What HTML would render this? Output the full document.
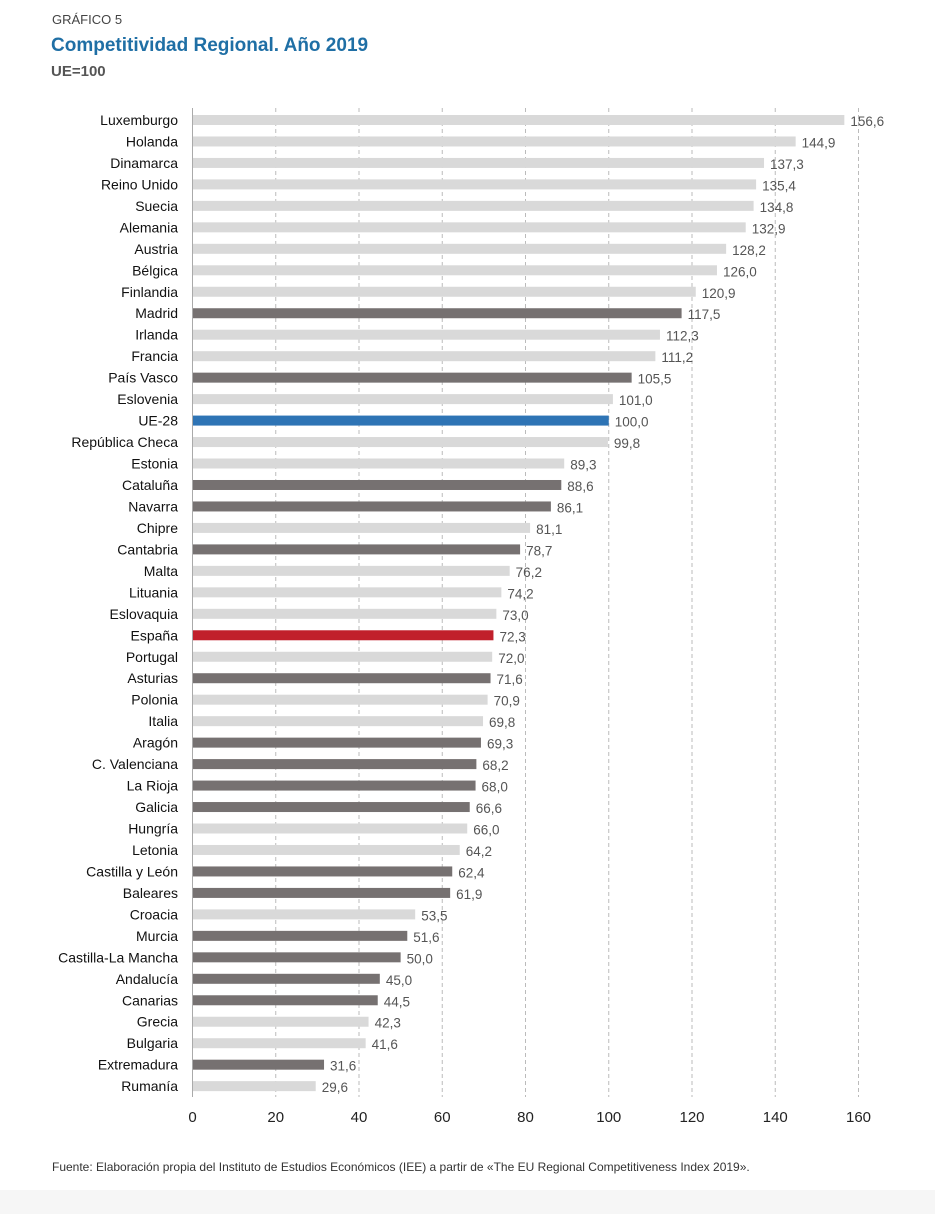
<!DOCTYPE html>
<html><head><meta charset="utf-8"><style>
body{margin:0;background:#fff;width:935px;height:1214px;overflow:hidden;font-family:"Liberation Sans",sans-serif;}
svg text{font-family:"Liberation Sans",sans-serif;}
</style></head><body>
<svg id="chart" width="935" height="1214">
<rect x="0" y="1190" width="935" height="24" fill="#f6f6f6"/>
<text x="52" y="24" font-size="13" fill="#444">GRÁFICO 5</text>
<text x="51" y="51" font-size="19" font-weight="bold" fill="#1f6fa5">Competitividad Regional. Año 2019</text>
<text x="51" y="76" font-size="15" font-weight="bold" fill="#555">UE=100</text>
<g id="grid"></g><g id="bars"></g>
<line x1="192.5" y1="108" x2="192.5" y2="1097" stroke="#aaa" stroke-width="1"/>
<text x="52" y="1171" font-size="12" fill="#333">Fuente: Elaboración propia del Instituto de Estudios Económicos (IEE) a partir de «The EU Regional Competitiveness Index 2019».</text>
</svg>
<script>
const categories=["Luxemburgo","Holanda","Dinamarca","Reino Unido","Suecia","Alemania","Austria","Bélgica","Finlandia","Madrid","Irlanda","Francia","País Vasco","Eslovenia","UE-28","República Checa","Estonia","Cataluña","Navarra","Chipre","Cantabria","Malta","Lituania","Eslovaquia","España","Portugal","Asturias","Polonia","Italia","Aragón","C. Valenciana","La Rioja","Galicia","Hungría","Letonia","Castilla y León","Baleares","Croacia","Murcia","Castilla-La Mancha","Andalucía","Canarias","Grecia","Bulgaria","Extremadura","Rumanía"];
const values=[156.6,144.9,137.3,135.4,134.8,132.9,128.2,126.0,120.9,117.5,112.3,111.2,105.5,101.0,100.0,99.8,89.3,88.6,86.1,81.1,78.7,76.2,74.2,73.0,72.3,72.0,71.6,70.9,69.8,69.3,68.2,68.0,66.6,66.0,64.2,62.4,61.9,53.5,51.6,50.0,45.0,44.5,42.3,41.6,31.6,29.6];
const kinds=["eu","eu","eu","eu","eu","eu","eu","eu","eu","es","eu","eu","es","eu","ue","eu","eu","es","es","eu","es","eu","eu","eu","spain","eu","es","eu","eu","es","es","es","es","eu","eu","es","es","eu","es","es","es","es","eu","eu","es","eu"];
const ticks=[0,20,40,60,80,100,120,140,160];
const colors={eu:"#d9d9d9",es:"#767171",ue:"#2e74b5",spain:"#c1202b"};
const NS="http://www.w3.org/2000/svg";
const x=v=>192.5+v*(666/160);
const y=i=>120+i*21.47;
const g=document.getElementById('grid'),b=document.getElementById('bars');
function mk(t,a,p){const e=document.createElementNS(NS,t);for(const k in a)e.setAttribute(k,a[k]);p.appendChild(e);return e;}
ticks.forEach(t=>{
 if(t>0){const l=mk('line',{x1:x(t),x2:x(t),y1:108,y2:1097,stroke:'#bbb','stroke-dasharray':'4,3'},g);
 
 }
 const tx=mk('text',{x:x(t),y:1122,'font-size':15,'text-anchor':'middle',fill:'#222'},g);tx.textContent=t;
 
 
});
categories.forEach((c,i)=>{
 const yc=y(i);
 const r=mk('rect',{x:192.5,y:yc-5,width:x(values[i])-192.5,height:10,fill:colors[kinds[i]]},b);
 
 
 const l=mk('text',{x:178,y:yc+5,'font-size':14,'text-anchor':'end',fill:'#111'},b);l.textContent=c;
 
 
 const v=mk('text',{x:x(values[i])+6,y:yc+6,'font-size':13.5,fill:'#555'},b);v.textContent=values[i].toFixed(1).replace('.',',');
 
 
});
</script>
</body></html>
